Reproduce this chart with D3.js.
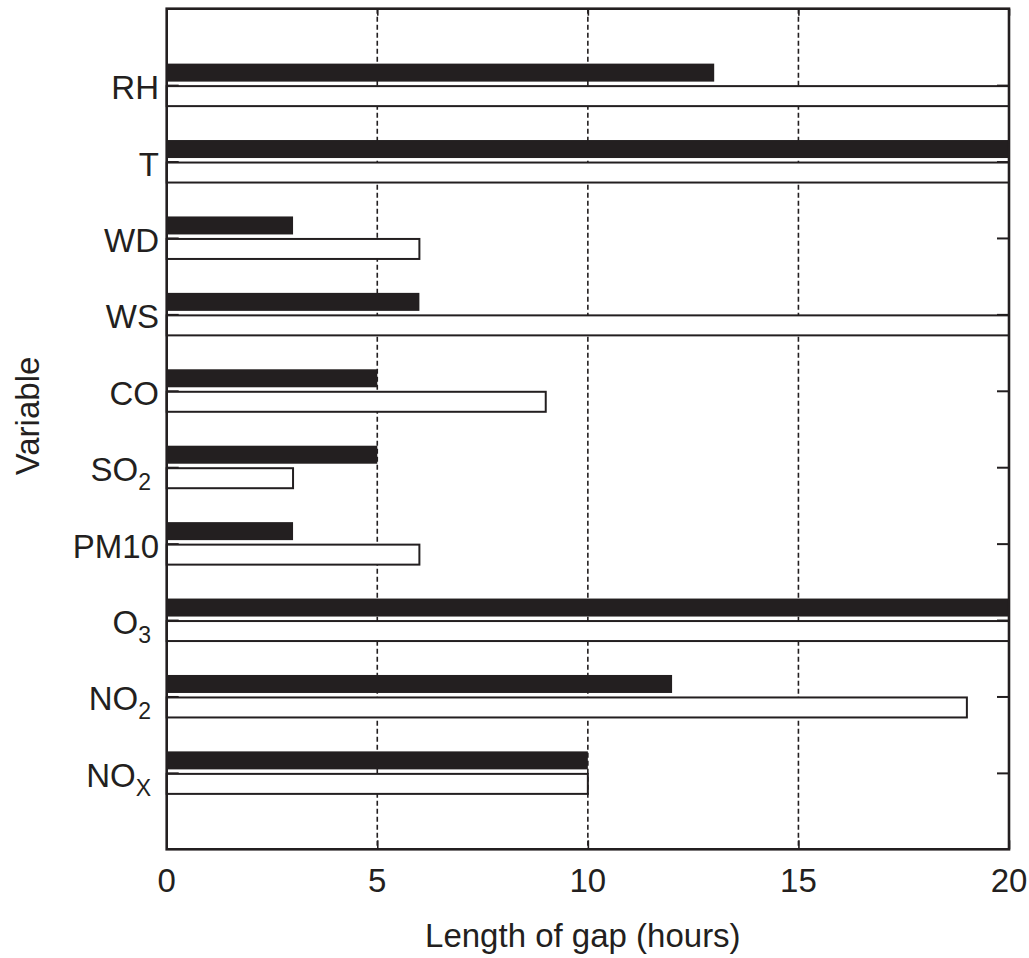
<!DOCTYPE html>
<html>
<head>
<meta charset="utf-8">
<script src="https://cdn.jsdelivr.net/npm/d3@7"></script>
<style>
  html, body { margin: 0; padding: 0; background: #fff; }
  svg { display: block; font-family: "Liberation Sans", Arial, Helvetica, sans-serif; }
</style>
</head>
<body>
<svg id="chart" width="1029" height="958"></svg>
<script>
// ---- data (top to bottom) ----
const categories = ["RH", "T", "WD", "WS", "CO", "SO2", "PM10", "O3", "NO2", "NOX"];
const labelMain  = ["RH", "T", "WD", "WS", "CO", "SO", "PM10", "O", "NO", "NO"];
const labelSub   = ["",   "",  "",   "",   "",   "2",  "",     "3", "2",  "X"];
const blackValues = [13, 20, 3, 6, 5, 5, 3, 20, 12, 10];
const whiteValues = [20, 20, 6, 20, 9, 3, 6, 20, 19, 10];
const xTicks = [0, 5, 10, 15, 20];
const xTitle = "Length of gap (hours)";
const yTitle = "Variable";

(function () {
const ink = "#231f20";
const pL = 166.7, pR = 1009, pT = 8.7, pB = 849.3;

const svg = d3.select("#chart");

const x = d3.scaleLinear().domain([0, 20]).range([pL, pR]);
const y = d3.scalePoint().domain(categories).range([pT, pB]).padding(1);

// dashed grid lines
svg.append("g").selectAll("line").data(xTicks.filter(d => d > 0 && d < 20)).join("line")
  .attr("x1", d => x(d)).attr("x2", d => x(d))
  .attr("y1", pT).attr("y2", pB)
  .attr("stroke", ink).attr("stroke-width", 1.6)
  .attr("stroke-dasharray", "5,3");

// inward ticks top / bottom
svg.append("g").attr("transform", `translate(0,${pB})`)
  .call(d3.axisTop(x).tickValues(xTicks).tickSize(9).tickFormat(""))
  .call(g => g.select(".domain").remove())
  .call(g => g.selectAll("line").attr("stroke", ink).attr("stroke-width", 1.6));
svg.append("g").attr("transform", `translate(0,${pT})`)
  .call(d3.axisBottom(x).tickValues(xTicks).tickSize(7).tickFormat(""))
  .call(g => g.select(".domain").remove())
  .call(g => g.selectAll("line").attr("stroke", ink).attr("stroke-width", 1.6));

// inward ticks left / right
svg.append("g").attr("transform", `translate(${pR},0)`)
  .call(d3.axisLeft(y).tickSize(12).tickFormat(""))
  .call(g => g.select(".domain").remove())
  .call(g => g.selectAll("line").attr("stroke", ink).attr("stroke-width", 2));
svg.append("g").attr("transform", `translate(${pL},0)`)
  .call(d3.axisRight(y).tickSize(12).tickFormat(""))
  .call(g => g.select(".domain").remove())
  .call(g => g.selectAll("line").attr("stroke", ink).attr("stroke-width", 2));

// black bars
svg.append("g").selectAll("rect").data(categories).join("rect")
  .attr("x", x(0))
  .attr("y", d => y(d) - 21.5)
  .attr("width", (d, i) => x(blackValues[i]) - x(0))
  .attr("height", 18)
  .attr("fill", ink);

// white bars
svg.append("g").selectAll("rect").data(categories).join("rect")
  .attr("x", x(0))
  .attr("y", d => y(d) + 1)
  .attr("width", (d, i) => x(whiteValues[i]) - x(0))
  .attr("height", 20)
  .attr("fill", "#fff")
  .attr("stroke", ink)
  .attr("stroke-width", 2);

// frame
svg.append("rect")
  .attr("x", pL).attr("y", pT)
  .attr("width", pR - pL).attr("height", pB - pT)
  .attr("fill", "none").attr("stroke", ink).attr("stroke-width", 2.6);

// category labels
const labels = svg.append("g").selectAll("text").data(categories).join("text")
  .attr("x", (d, i) => labelSub[i] !== "" ? 151 : 159)
  .attr("y", d => y(d) + 14)
  .attr("text-anchor", "end")
  .attr("font-size", 33)
  .attr("fill", ink);
labels.append("tspan").text((d, i) => labelMain[i]);
labels.filter((d, i) => labelSub[i] !== "").append("tspan")
  .attr("dy", 9)
  .attr("font-size", 23)
  .text(d => labelSub[categories.indexOf(d)]);

// x tick labels
svg.append("g").selectAll("text").data(xTicks).join("text")
  .attr("x", d => x(d))
  .attr("y", 892)
  .attr("text-anchor", "middle")
  .attr("font-size", 33)
  .attr("fill", ink)
  .text(d => d);

// axis titles
svg.append("text")
  .attr("x", (pL + pR) / 2 - 5)
  .attr("y", 947)
  .attr("text-anchor", "middle")
  .attr("font-size", 33)
  .attr("fill", ink)
  .text(xTitle);

svg.append("text")
  .attr("transform", "translate(38.5,416) rotate(-90)")
  .attr("text-anchor", "middle")
  .attr("font-size", 33)
  .attr("fill", ink)
  .text(yTitle);
})();
</script>
</body>
</html>
